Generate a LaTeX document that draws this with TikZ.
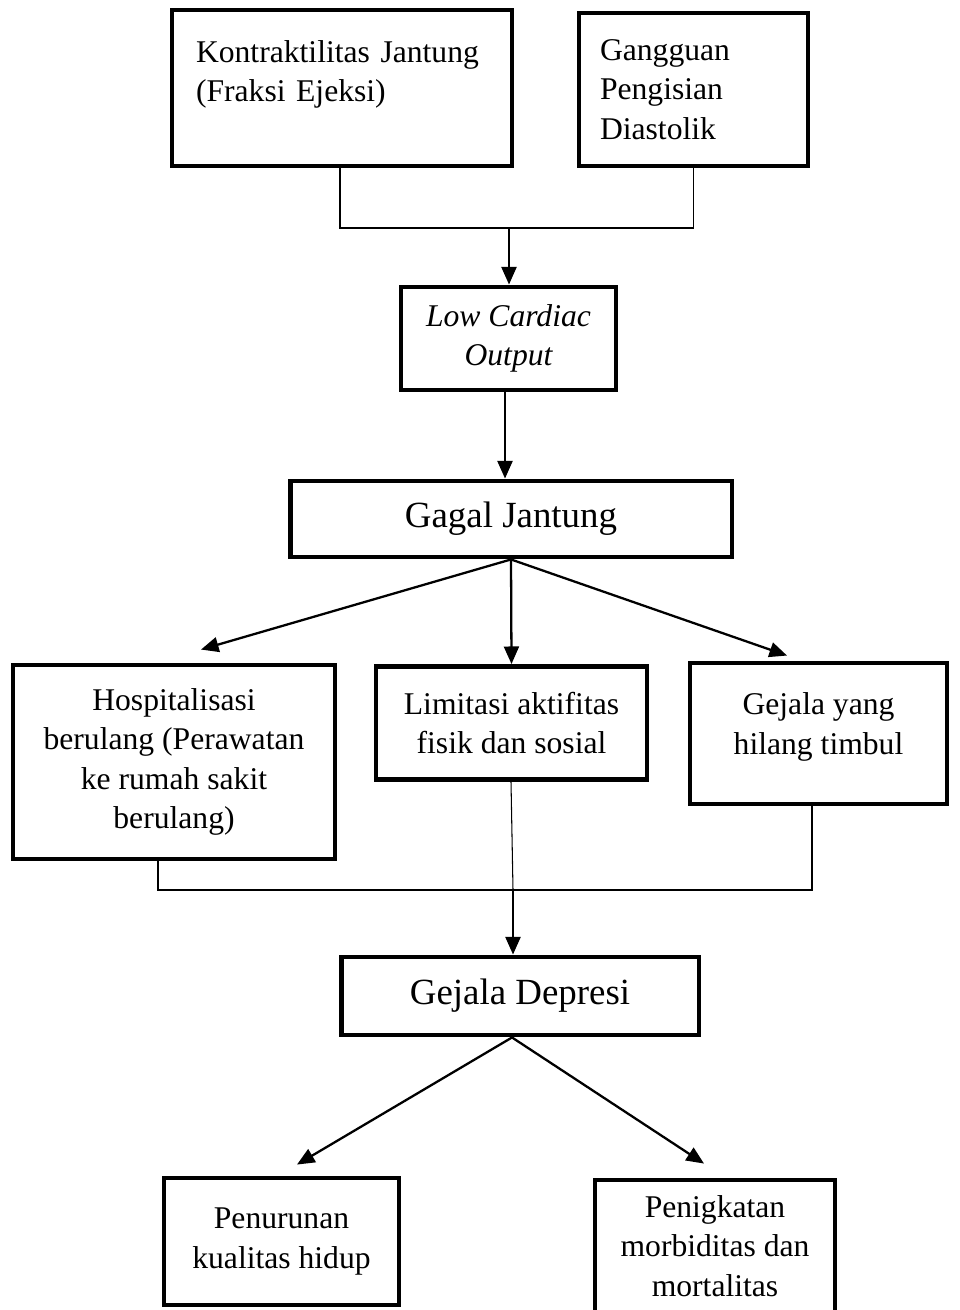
\documentclass[tikz,border=0pt]{standalone}
\usepackage{fontspec}
\setmainfont{Liberation Serif}
\usetikzlibrary{arrows.meta}

\begin{document}
\begin{tikzpicture}[
		x=0.02cm, y=-0.02cm,
		>={Triangle[length=10pt,width=8.5pt]},
		font=\fontsize{18}{22.5}\selectfont,
		box/.style={draw, line width=2.8pt, inner sep=0pt},
		bigtext/.style={font=\fontsize{21}{25}\selectfont},
		link/.style={->, line width=1.3pt},
		joinline/.style={line width=0.6pt}
		]
		
		\useasboundingbox (0,0) rectangle (959,1310);
		
		% ==========================================
		% Penyebab
		% ==========================================
		\node (kontraktilitas) [box, minimum width=6.8cm, minimum height=3.12cm, text width=5.84cm, align=left] at (342,88) {
			Kontraktilitas Jantung\\(Fraksi Ejeksi)\\[-3pt]\mbox{}
		};
		\node (gangguan) [box, minimum width=4.58cm, minimum height=3.06cm, text width=3.74cm, align=left] at (693.5,89.5) {
			Gangguan\\Pengisian\\Diastolik
		};
		\coordinate (topjoin) at (509,228);
		
		\draw[joinline] ([xshift=-0.04cm]kontraktilitas.south) |- (topjoin) -| (gangguan.south);
		
		% ==========================================
		% Low Cardiac Output -> Gagal Jantung
		% ==========================================
		\node (lowco) [box, minimum width=4.3cm, minimum height=2.06cm, align=center, font=\fontsize{18}{22.5}\selectfont\itshape] at (508.5,338.5) {
			Low Cardiac\\Output
		};
		\draw[link] (topjoin) -- (topjoin |- lowco.north);
		
		\node (gagal) [box, bigtext, minimum width=8.84cm, minimum height=1.52cm] at (511,519) {Gagal Jantung};
		\draw[link] ([xshift=-0.07cm]lowco.south) -- ([xshift=-0.07cm]lowco.south |- gagal.north);
		
		% ==========================================
		% Dampak gagal jantung
		% ==========================================
		\node (hosp) [box, minimum width=6.44cm, minimum height=3.88cm, align=center] at (174,762) {
			Hospitalisasi\\berulang (Perawatan\\ke rumah sakit\\berulang)
		};
		\node (limit) [box, minimum width=5.42cm, minimum height=2.26cm, align=center] at (511.5,723) {
			Limitasi aktifitas\\fisik dan sosial
		};
		\node (gejala) [box, minimum width=5.14cm, minimum height=2.82cm, align=center] at (818.5,733.5) {
			Gejala yang\\hilang timbul\\[-11pt]\mbox{}
		};
		
		\draw[link] (gagal.south) -- ([xshift=0.54cm, yshift=0.26cm]hosp.north);
		\draw[link] (gagal.south) -- (limit.north);
		\draw[link] (gagal.south) -- ([xshift=-0.63cm, yshift=0.1cm]gejala.north);
		
		\coordinate (botjoin) at (513,890);
		\draw[joinline] ([xshift=-0.32cm]hosp.south) |- (botjoin) -| ([xshift=-0.13cm]gejala.south);
		\draw[joinline] ([xshift=-0.01cm]limit.south) -- (botjoin);
		
		% ==========================================
		% Gejala depresi
		% ==========================================
		\node (depresi) [box, bigtext, minimum width=7.16cm, minimum height=1.56cm] at (520,996) {Gejala Depresi};
		\draw[link] (botjoin) -- (botjoin |- depresi.north);
		
		\node (penurunan) [box, minimum width=4.7cm, minimum height=2.54cm, align=center] at (281.5,1241.5) {
			Penurunan\\kualitas hidup
		};
		\node (penigkatan) [box, minimum width=4.8cm, minimum height=2.64cm, align=center] at (715,1246) {
			Penigkatan\\morbiditas dan\\mortalitas
		};
		
		\draw[link] ([xshift=-0.16cm]depresi.south) -- ([xshift=0.31cm, yshift=0.22cm]penurunan.north);
		\draw[link] ([xshift=-0.16cm]depresi.south) -- ([xshift=-0.22cm, yshift=0.28cm]penigkatan.north);
		
	\end{tikzpicture}
\end{document}
